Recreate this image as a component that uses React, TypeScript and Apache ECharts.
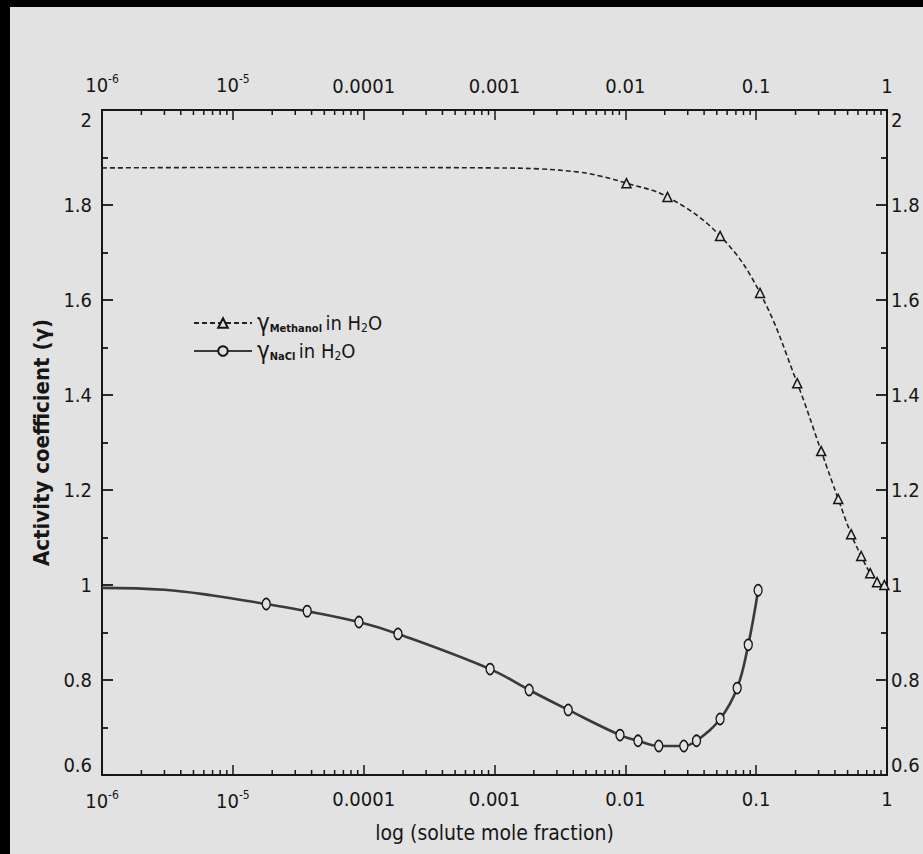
import React, { useEffect, useRef } from "react";
import * as echarts from "echarts";

// Methanol in water (dashed line, triangle markers). MARK = 1 → measured point drawn with a marker
const METHANOL_X = [1e-6, 1e-5, 1e-4, 1e-3, 2.2e-3, 4.5e-3, 6.4e-3, 0.0102, 0.021, 0.053, 0.107, 0.206, 0.314, 0.424, 0.532, 0.635, 0.744, 0.84, 0.955];
const METHANOL_Y = [1.878, 1.879, 1.879, 1.878, 1.876, 1.869, 1.861, 1.846, 1.817, 1.735, 1.615, 1.425, 1.282, 1.181, 1.107, 1.061, 1.025, 1.006, 1.0];
const METHANOL_MARK = [0, 0, 0, 0, 0, 0, 0, 1, 1, 1, 1, 1, 1, 1, 1, 1, 1, 1, 1];

// NaCl in water (solid line, circle markers)
const NACL_X = [1e-6, 3e-6, 7e-6, 1.8e-5, 3.7e-5, 9.2e-5, 1.83e-4, 9.25e-4, 1.84e-3, 3.66e-3, 9.1e-3, 0.0125, 0.018, 0.028, 0.035, 0.053, 0.0716, 0.087, 0.1035];
const NACL_Y = [0.994, 0.99, 0.978, 0.96, 0.945, 0.922, 0.897, 0.823, 0.779, 0.737, 0.684, 0.672, 0.661, 0.661, 0.672, 0.718, 0.783, 0.874, 0.989];
const NACL_MARK = [0, 0, 0, 1, 1, 1, 1, 1, 1, 1, 1, 1, 1, 1, 1, 1, 1, 1, 1];

// Axis ticks
const X_MIN = 1e-6;
const X_MAX = 1;
const X_TICK_LABELS = ["10{sup|-6}", "10{sup|-5}", "0.0001", "0.001", "0.01", "0.1", "1"];
const X_MINOR_MULTIPLIERS = [2, 3, 4, 5, 6, 7, 8, 9];
const X_DECADES = [1e-6, 1e-5, 1e-4, 1e-3, 1e-2, 1e-1];
const Y_MIN = 0.6;
const Y_MAX = 2;
const Y_INTERVAL = 0.2;

const LEGEND_METHANOL = "Methanol";
const LEGEND_NACL = "NaCl";

const FONT = '"Liberation Sans Narrow", "DejaVu Sans Condensed", "Arial Narrow", "Liberation Sans", sans-serif';
const INK = "#161616";
const PAPER = "#e2e2e2";

export default function App() {
  const ref = useRef<HTMLDivElement>(null);

  useEffect(() => {
    if (!ref.current) return;
    const chart = echarts.init(ref.current, null, { renderer: "svg" });

    const methanolData = METHANOL_X.map((x, i) =>
      METHANOL_MARK[i] ? [x, METHANOL_Y[i]] : { value: [x, METHANOL_Y[i]], symbol: "none" }
    );
    const naclData = NACL_X.map((x, i) =>
      NACL_MARK[i] ? [x, NACL_Y[i]] : { value: [x, NACL_Y[i]], symbol: "none" }
    );
    const minorTicks: number[][] = [];
    X_DECADES.forEach((d) => X_MINOR_MULTIPLIERS.forEach((m) => minorTicks.push([d * m, Y_MIN])));

    const xLabel = {
      fontFamily: FONT,
      fontSize: 20,
      color: INK,
      margin: 14,
      showMinLabel: true,
      showMaxLabel: true,
      formatter: (v: number) => {
        const e = Math.round(Math.log10(v));
        return X_TICK_LABELS[e + 6] ?? String(v);
      },
      rich: {
        sup: { fontFamily: FONT, fontSize: 12, padding: [0, 0, 11, 0], color: INK },
      },
    };

    const xAxisBase = {
      type: "log",
      logBase: 10,
      min: X_MIN,
      max: X_MAX,
      interval: 1,
      axisLine: { show: true, lineStyle: { color: INK, width: 2 } },
      axisTick: { show: true, inside: true, length: 10, lineStyle: { color: INK, width: 1.5 } },
      splitLine: { show: false },
      minorTick: { show: false },
    };

    const yLabelBase = {
      fontFamily: FONT,
      fontSize: 20,
      color: INK,
      verticalAlignMinLabel: "bottom",
      verticalAlignMaxLabel: "top",
      showMinLabel: true,
      showMaxLabel: true,
      formatter: (v: number) => String(parseFloat(v.toFixed(1))),
    };
    const yAxisBase = {
      type: "value",
      min: Y_MIN,
      max: Y_MAX,
      interval: Y_INTERVAL,
      axisLine: { show: true, lineStyle: { color: INK, width: 2 } },
      axisTick: { show: true, inside: true, length: 11, lineStyle: { color: INK, width: 1.8 } },
      minorTick: { show: true, splitNumber: 2, length: 6, lineStyle: { color: INK, width: 1.8 } },
      splitLine: { show: false },
    };

    chart.setOption({
      animation: false,
      backgroundColor: "#000000",
      graphic: [
        {
          type: "rect",
          z: -10,
          left: 10,
          top: 7,
          shape: { width: 913, height: 847 },
          style: { fill: PAPER },
          silent: true,
        },
      ],
      grid: { left: 102, right: 36, top: 110, bottom: 79, containLabel: false },
      legend: {
        orient: "vertical",
        left: 188,
        top: 306,
        itemWidth: 58,
        itemHeight: 12,
        itemGap: 4,
        data: [LEGEND_METHANOL, LEGEND_NACL],
        formatter: (name: string) => "{g|γ}{sub|" + name + "} {t|in H}{sub2|2}{t|O}",
        textStyle: {
          color: INK,
          fontFamily: FONT,
          rich: {
            g: { fontFamily: FONT, fontSize: 24, color: INK },
            sub: { fontFamily: FONT, fontSize: 11, fontWeight: "bold", color: INK, padding: [10, 0, 0, 0] },
            t: { fontFamily: FONT, fontSize: 20, color: INK },
            sub2: { fontFamily: FONT, fontSize: 12, color: INK, padding: [10, 0, 0, 0] },
          },
        },
      },
      xAxis: [
        {
          ...xAxisBase,
          position: "bottom",
          name: "log (solute mole fraction)",
          nameLocation: "middle",
          nameGap: 47,
          nameTextStyle: { fontFamily: FONT, fontSize: 21, color: INK },
          axisLabel: xLabel,
        },
        {
          ...xAxisBase,
          position: "top",
          axisLabel: xLabel,
        },
      ],
      yAxis: [
        {
          ...yAxisBase,
          position: "left",
          name: "Activity coefficient (γ)",
          nameLocation: "middle",
          nameGap: 29,
          nameTextStyle: { fontFamily: FONT, fontSize: 22, color: INK, fontWeight: "bold" },
          axisLabel: { ...yLabelBase, margin: 10 },
        },
        {
          ...yAxisBase,
          position: "right",
          axisLabel: { ...yLabelBase, margin: 4 },
        },
      ],
      series: [
        {
          name: LEGEND_METHANOL,
          type: "line",
          xAxisIndex: 0,
          yAxisIndex: 0,
          smooth: 0.4,
          data: methanolData,
          symbol: "triangle",
          symbolSize: 9,
          lineStyle: { color: "#222222", width: 1.6, type: [5, 3] },
          itemStyle: { color: PAPER, borderColor: INK, borderWidth: 1.5 },
          z: 3,
        },
        {
          name: LEGEND_NACL,
          type: "line",
          xAxisIndex: 0,
          yAxisIndex: 0,
          smooth: 0.4,
          data: naclData,
          symbol: "circle",
          symbolSize: [8, 11],
          lineStyle: { color: "#3a3a3a", width: 2.6 },
          itemStyle: { color: PAPER, borderColor: INK, borderWidth: 1.5 },
          z: 3,
        },
        {
          name: "minorTicks",
          type: "custom",
          xAxisIndex: 0,
          yAxisIndex: 0,
          silent: true,
          clip: false,
          data: minorTicks,
          renderItem: (_params: any, api: any) => {
            const x = api.value(0);
            const b = api.coord([x, Y_MIN]);
            const t = api.coord([x, Y_MAX]);
            const style = { stroke: INK, lineWidth: 1.5 };
            return {
              type: "group",
              children: [
                { type: "line", shape: { x1: b[0], y1: b[1], x2: b[0], y2: b[1] - 5 }, style },
                { type: "line", shape: { x1: t[0], y1: t[1], x2: t[0], y2: t[1] + 5 }, style },
              ],
            };
          },
        },
      ],
    });

    return () => chart.dispose();
  }, []);

  return (
    <div
      ref={ref}
      style={{ position: "fixed", left: 0, top: 0, width: 923, height: 854 }}
    />
  );
}
